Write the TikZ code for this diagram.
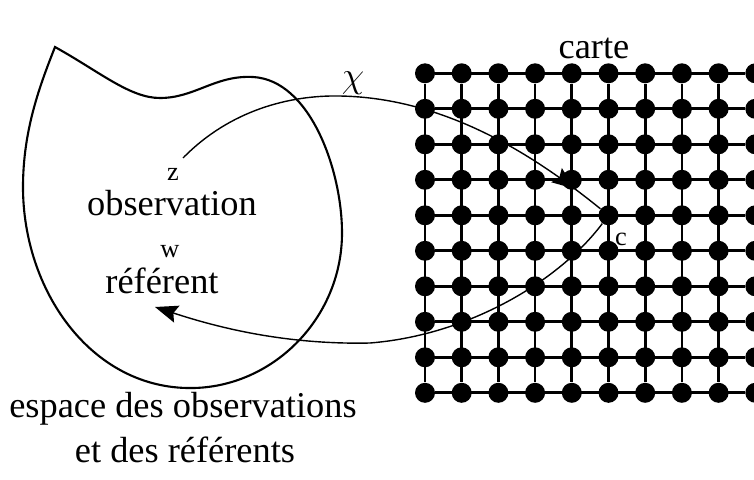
\documentclass[tikz,border=0pt]{standalone}
\usepackage{fontspec}
\setmainfont{Liberation Serif}
\usetikzlibrary{arrows.meta,decorations.markings}

\begin{document}
\begin{tikzpicture}[x=0.02cm, y=-0.02cm, every node/.style={font=\fontsize{20.7}{24}\selectfont, inner sep=0pt, anchor=base}, >={Stealth[length=13pt, width=10pt, inset=2pt]}, pt/.style={circle, fill=black, minimum size=0.4cm, anchor=center}, sm/.style={font=\fontsize{15}{18}\selectfont}, arr/.style={line width=0.8pt}]
	\useasboundingbox (0,0) rectangle (754,480);
	\draw[line width=1.2pt] (55,47) .. controls (100,72) and (130,98) .. (160,98) .. controls (195,98) and (215,75) .. (253,77) .. controls (310,80) and (342,170) .. (342,233) .. controls (342,320) and (270,390) .. (187,388) .. controls (90,386) and (23,290) .. (23,187) .. controls (23,130) and (40,85) .. (55,47) -- cycle;
	\foreach \i in {1,...,10} {\foreach \j in {1,...,10} {\node[pt] (p-\i-\j) at ({425+36.7*(\i-1)},{73.3+35.5*(\j-1)}) {};}}
	\foreach \k in {1,...,10} {\draw[line width=1.5pt] (p-\k-1) -- (p-\k-10); \draw[line width=1.5pt] (p-1-\k) -- (p-10-\k);}
	\node (carte) at (594,58) {carte};
	\node (chi) at (353,87) {$\chi$};
	\node[sm] (z) at (173,180) {z};
	\node (obs) at (172,215) {observation};
	\node[sm] (w) at (170,257) {w};
	\node (ref) at (162,293) {référent};
	\node[sm] (clab) at (621,245) {c};
	\node (esp1) at (183,417) {espace des observations};
	\node (esp2) at (185,462) {et des référents};
	\coordinate (zs) at (183,158);
	\coordinate (wt) at (155,307);
	\draw[arr, postaction=decorate, decoration={markings, mark=at position 0.93 with {\arrow{>}}}] (zs) .. controls (230,110) and (290,95) .. (340,96) .. controls (450,98) and (540,160) .. (p-6-5);
	\draw[arr, ->] (p-6-5) .. controls (560,280) and (470,335) .. (370,343) .. controls (280,345) and (210,325) .. (wt);
\end{tikzpicture}
\end{document}
